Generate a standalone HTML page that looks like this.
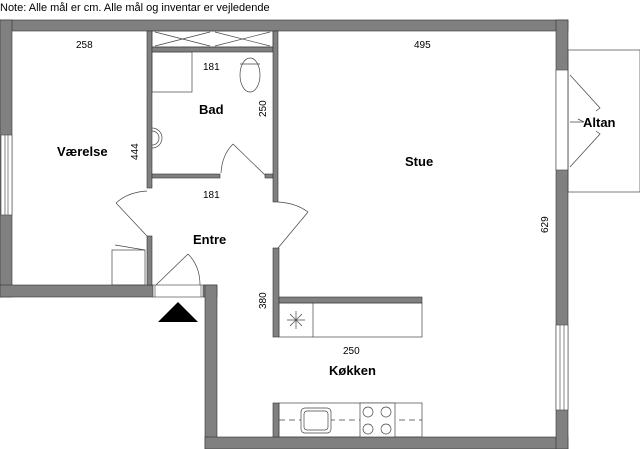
<!DOCTYPE html>
<html><head><meta charset="utf-8"><style>
html,body{margin:0;padding:0;background:#fff;width:640px;height:449px;overflow:hidden}
svg{display:block}
text{font-family:"Liberation Sans",sans-serif;fill:#000}
</style></head><body>
<svg width="640" height="449" viewBox="0 0 640 449" xmlns="http://www.w3.org/2000/svg">
<text x="0" y="11" font-size="11">Note: Alle mål er cm. Alle mål og inventar er vejledende</text>
<g fill="#808080" stroke="#333" stroke-width="0.6">
<!-- top -->
<rect x="0" y="20" width="568" height="11"/>
<!-- left -->
<rect x="0" y="20" width="12" height="277"/>
<!-- bedroom bottom -->
<rect x="0" y="285" width="153" height="12"/>
<rect x="203" y="285" width="14" height="12"/>
<!-- kitchen left -->
<rect x="205" y="285" width="12" height="164"/>
<!-- bottom -->
<rect x="205" y="437" width="363" height="12"/>
<!-- right -->
<rect x="556" y="20" width="12" height="429"/>
<!-- bedroom/bath wall -->
<rect x="147" y="31" width="5" height="157"/>
<rect x="147" y="236" width="5" height="49"/>
<!-- bath top strip wall -->
<rect x="152" y="47" width="121" height="5"/>
<!-- bath bottom -->
<rect x="152" y="174" width="68" height="4"/>
<rect x="265" y="174" width="8" height="4"/>
<!-- bath right / stue wall -->
<rect x="273" y="31" width="5" height="171"/>
<rect x="273" y="248" width="6" height="89"/>
<!-- counter top wall -->
<rect x="279" y="297" width="143" height="6"/>
<rect x="273" y="403" width="6" height="34"/>
</g>
<!-- windows -->
<g fill="#fff" stroke="#555" stroke-width="0.7">
<rect x="1" y="135" width="11" height="80"/>
<line x1="5" y1="135" x2="5" y2="215"/><line x1="8" y1="135" x2="8" y2="215"/>
<rect x="556" y="70" width="12" height="100"/>
<rect x="556" y="325" width="12" height="85"/>
<line x1="560" y1="325" x2="560" y2="410"/><line x1="564" y1="325" x2="564" y2="410"/>
<rect x="153" y="285" width="50" height="12"/>
<line x1="155" y1="285" x2="155" y2="297"/><line x1="201" y1="285" x2="201" y2="297"/>
</g>
<g fill="none" stroke="#444" stroke-width="0.7">
<!-- altan -->
<rect x="568" y="50" width="72" height="142"/>
<polyline points="570,75 600,108 596,111"/>
<polyline points="570,167 600,134 596,131"/>
<polyline points="570,122 584,122 578,119"/>
<!-- shower strip -->
<rect x="152" y="31" width="121" height="16"/>
<line x1="155" y1="32" x2="210" y2="46"/><line x1="155" y1="46" x2="210" y2="32"/>
<line x1="215" y1="32" x2="270" y2="46"/><line x1="215" y1="46" x2="270" y2="32"/>
<!-- bath fixtures -->
<rect x="152" y="52" width="40" height="40"/>
<ellipse cx="250" cy="75" rx="10" ry="17"/>
<line x1="240" y1="64" x2="260" y2="64"/>
<path d="M152,128 a10,10 0 1 1 0,20"/>
<path d="M152,131 a7,7 0 1 1 0,14"/>
<!-- doors -->
<line x1="265" y1="175" x2="233" y2="144"/><path d="M233,144 Q222,155 221,173"/>
<line x1="147" y1="236" x2="116" y2="203"/><path d="M116,203 Q128,192 147,191"/>
<line x1="278" y1="248" x2="308" y2="212"/><path d="M308,212 Q296,203 278,202"/>
<line x1="156" y1="285" x2="188" y2="254"/><path d="M188,254 Q200,266 200,285"/>
<!-- nightstand -->
<rect x="112" y="250" width="33" height="35"/>
<line x1="115" y1="245" x2="145" y2="250"/>
<!-- counters -->
<rect x="279" y="303" width="143" height="34"/>
<line x1="313" y1="303" x2="313" y2="337"/>
<line x1="287" y1="320" x2="305" y2="320"/><line x1="296" y1="311" x2="296" y2="329"/>
<line x1="290" y1="314" x2="302" y2="326"/><line x1="290" y1="326" x2="302" y2="314"/>
<rect x="279" y="403" width="143" height="34"/>
<line x1="279" y1="420" x2="422" y2="420" stroke-dasharray="6,4"/>
<rect x="301" y="408" width="30" height="25" rx="4" fill="#fff"/>
<rect x="304" y="411" width="24" height="19" rx="3"/>
<rect x="360" y="403" width="35" height="34" fill="#fff"/>
<circle cx="368" cy="412" r="5"/><circle cx="386" cy="412" r="5"/>
<circle cx="368" cy="429" r="5"/><circle cx="386" cy="429" r="5"/>
</g>
<polygon points="178,302 158,322 198,322" fill="#000"/>
<g font-size="10">
<text x="76" y="48">258</text>
<text x="203" y="70">181</text>
<text x="203" y="198">181</text>
<text x="414" y="48">495</text>
<text x="343" y="354">250</text>
<text transform="translate(266,117) rotate(-90)">250</text>
<text transform="translate(138,160) rotate(-90)">444</text>
<text transform="translate(266,309) rotate(-90)">380</text>
<text transform="translate(548,233) rotate(-90)">629</text>
</g>
<g font-size="13" font-weight="bold">
<text x="199" y="114">Bad</text>
<text x="57" y="156">Værelse</text>
<text x="405" y="166">Stue</text>
<text x="193" y="244">Entre</text>
<text x="329" y="375">Køkken</text>
<text x="583" y="127">Altan</text>
</g>
</svg>
</body></html>
